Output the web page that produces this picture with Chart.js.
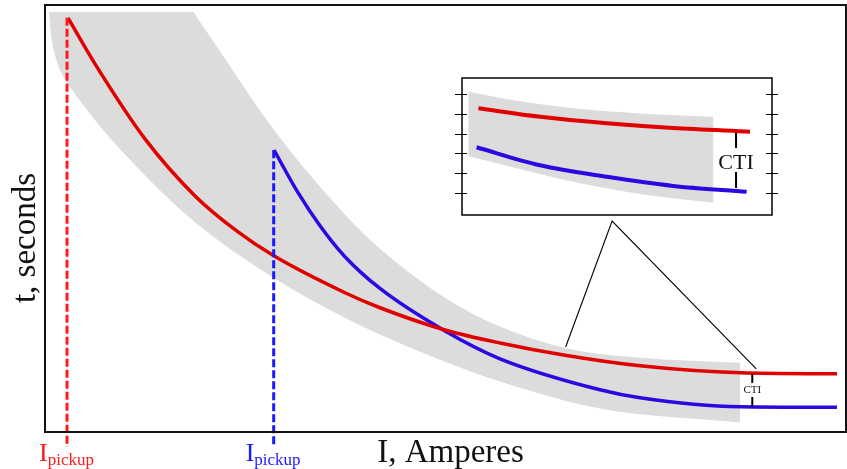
<!DOCTYPE html>
<html>
<head>
<meta charset="utf-8">
<script src="https://cdn.jsdelivr.net/npm/chart.js@4/dist/chart.umd.min.js"></script>
<style>
  body { margin: 0; background: #fff; }
  #wrap { position: relative; width: 847px; height: 469px; }
  #inset { position: absolute; left: 440px; top: 70px; }
</style>
</head>
<body>
<div id="wrap">
  <canvas id="main" width="847" height="469"></canvas>
  <canvas id="inset" width="350" height="160"></canvas>
</div>
<script>
// main plot, both axes in arbitrary units 0-100 (no tick labels on the original)
const redI = [2.87, 6.24, 12.48, 18.73, 23.97, 28.46, 37.45, 41.82, 49.94, 56.80, 64.92, 74.28, 86.77, 98.88];
const redT = [96.96, 86.21, 68.64, 55.29, 47.03, 41.38, 32.62, 29.10, 23.89, 20.84, 17.96, 15.50, 13.86, 13.63];

const blueI = [28.59, 31.59, 34.33, 37.45, 41.82, 49.94, 56.80, 69.29, 74.28, 86.77, 98.88];
const blueT = [66.04, 56.04, 48.31, 41.05, 33.61, 23.65, 17.14, 9.88, 8.01, 5.90, 5.78];

// grey tolerance band
const bandUpperI = [0.50, 18.48, 19.10, 29.09, 37.45, 41.82, 50.19, 56.80, 64.92, 74.28, 86.77];
const bandUpperT = [98.36, 98.36, 96.72, 69.48, 50.96, 42.93, 31.15, 24.68, 19.67, 17.38, 16.21];
const bandLowerI = [0.50, 0.75, 1.25, 2.12, 3.37, 5.62, 8.36, 17.85, 28.46, 37.45, 41.82, 49.94, 56.80, 69.29, 86.77];
const bandLowerT = [98.36, 92.97, 88.29, 83.84, 80.09, 74.52, 68.34, 50.54, 36.21, 26.77, 22.83, 16.44, 11.80, 5.48, 2.20];

// pickup currents (dashed verticals)
const redPickupI = 2.75;
const redPickupT = [97.0, -3.5];
const bluePickupI = 28.55;
const bluePickupT = [66.0, -3.5];

// leader lines from the zoom box
const leaderI = [65.0, 70.8, 88.8];
const leaderT = [19.9, 49.4, 14.8];

// CTI marker on the main plot
const ctiI = 88.3;
const ctiT = [13.6, 11.5, null, 8.2, 6.0];
const ctiLabelT = 9.8;

// inset (zoomed view)
const insetTicks = [0, 1, 2, 3, 4, 5];
const insetRedX = [5.3, 25.2, 46.7, 68.1, 92.9];
const insetRedY = [4.28, 3.85, 3.52, 3.28, 3.10];
const insetBlueX = [4.7, 25.2, 46.7, 68.1, 91.8];
const insetBlueY = [2.31, 1.40, 0.82, 0.36, 0.07];
const insetBandX = [2.0, 19.8, 35.9, 57.4, 81.1];
const insetBandUpperY = [5.12, 4.61, 4.28, 4.02, 3.85];
const insetBandLowerY = [1.87, 1.16, 0.57, -0.05, -0.49];
const insetCtiX = 88.4;
const insetCtiY = [3.03, 2.27, null, 1.06, 0.25];
const insetCtiLabelY = 1.52;

const pts = (xs, ys) => ys.map((y, i) => ({ x: Array.isArray(xs) ? xs[i] : xs, y: y }));

const RED = '#e00000';
const BLUE = '#2a08e0';
const GREY = '#dcdcdc';
const SERIF = '"Liberation Serif", "DejaVu Serif", serif';

const mainDecor = {
  id: 'mainDecor',
  afterDraw(chart) {
    const ctx = chart.ctx;
    const a = chart.chartArea;
    const x = chart.scales.x, y = chart.scales.y;
    ctx.save();
    ctx.strokeStyle = '#111';
    ctx.lineWidth = 2;
    ctx.strokeRect(a.left, a.top, a.right - a.left, a.bottom - a.top);

    ctx.fillStyle = '#111';
    ctx.font = '11px ' + SERIF;
    ctx.textAlign = 'center';
    ctx.textBaseline = 'middle';
    ctx.fillText('CTI', x.getPixelForValue(ctiI), y.getPixelForValue(ctiLabelT));

    // axis titles
    ctx.font = '33px ' + SERIF;
    ctx.textBaseline = 'alphabetic';
    ctx.fillText('I, Amperes', (a.left + a.right) / 2 + 5, 462);
    ctx.save();
    ctx.translate(35, 238);
    ctx.rotate(-Math.PI / 2);
    ctx.fillText('t, seconds', 0, 0);
    ctx.restore();

    // I_pickup labels
    const pickup = (val, color) => {
      const left = x.getPixelForValue(val) - 28;
      ctx.fillStyle = color;
      ctx.textAlign = 'left';
      ctx.font = '26px ' + SERIF;
      ctx.fillText('I', left, 461);
      const w = ctx.measureText('I').width;
      ctx.font = '17px ' + SERIF;
      ctx.fillText('pickup', left + w, 465);
    };
    pickup(redPickupI, '#ff1a1a');
    pickup(bluePickupI, '#1a1aff');
    ctx.restore();
  }
};

new Chart(document.getElementById('main'), {
  type: 'line',
  data: {
    datasets: [
      { data: pts(leaderI, leaderT), borderColor: '#000', borderWidth: 1.1, tension: 0 },
      { data: pts(ctiI, ctiT), borderColor: '#000', borderWidth: 2, tension: 0, spanGaps: false },
      { data: pts(redPickupI, redPickupT), borderColor: '#ff1a1a', borderWidth: 3, borderDash: [8, 3], tension: 0, clip: false },
      { data: pts(bluePickupI, bluePickupT), borderColor: '#1a1aff', borderWidth: 3, borderDash: [8, 3], tension: 0, clip: false },
      { data: pts(redI, redT), borderColor: RED, borderWidth: 3.5, cubicInterpolationMode: 'monotone' },
      { data: pts(blueI, blueT), borderColor: BLUE, borderWidth: 3.5, cubicInterpolationMode: 'monotone' },
      { data: pts(bandLowerI, bandLowerT), borderWidth: 0, borderColor: GREY, cubicInterpolationMode: 'monotone', fill: false },
      { data: pts(bandUpperI, bandUpperT), borderWidth: 0, borderColor: GREY, backgroundColor: GREY, cubicInterpolationMode: 'monotone', fill: '-1' }
    ]
  },
  options: {
    responsive: false,
    animation: false,
    devicePixelRatio: 1,
    layout: { padding: { left: 45, top: 5, right: 1, bottom: 37 } },
    elements: { point: { radius: 0, hoverRadius: 0 } },
    scales: {
      x: { type: 'linear', min: 0, max: 100, display: false },
      y: { min: 0, max: 100, display: false }
    },
    plugins: { legend: { display: false }, tooltip: { enabled: false } },
    events: []
  },
  plugins: [mainDecor]
});

const insetDecor = {
  id: 'insetDecor',
  afterDraw(chart) {
    const ctx = chart.ctx;
    const a = chart.chartArea;
    const x = chart.scales.x, y = chart.scales.y;
    ctx.save();
    ctx.strokeStyle = '#000';
    ctx.lineWidth = 1.5;
    ctx.strokeRect(a.left, a.top, a.right - a.left, a.bottom - a.top);
    ctx.lineWidth = 1.2;
    y.ticks.forEach(t => {
      const py = Math.round(y.getPixelForValue(t.value)) + 0.5;
      ctx.beginPath();
      ctx.moveTo(a.left - 7, py); ctx.lineTo(a.left + 5, py);
      ctx.moveTo(a.right - 6, py); ctx.lineTo(a.right + 6, py);
      ctx.stroke();
    });
    ctx.fillStyle = '#111';
    ctx.font = '22px ' + SERIF;
    ctx.textAlign = 'center';
    ctx.textBaseline = 'middle';
    ctx.fillText('CTI', x.getPixelForValue(insetCtiX), y.getPixelForValue(insetCtiLabelY));
    ctx.restore();
  }
};

new Chart(document.getElementById('inset'), {
  type: 'line',
  data: {
    datasets: [
      { data: pts(insetCtiX, insetCtiY), borderColor: '#000', borderWidth: 2, tension: 0, spanGaps: false },
      { data: pts(insetRedX, insetRedY), borderColor: RED, borderWidth: 4, cubicInterpolationMode: 'monotone' },
      { data: pts(insetBlueX, insetBlueY), borderColor: BLUE, borderWidth: 4, cubicInterpolationMode: 'monotone' },
      { data: pts(insetBandX, insetBandLowerY), borderWidth: 0, borderColor: GREY, cubicInterpolationMode: 'monotone', fill: false },
      { data: pts(insetBandX, insetBandUpperY), borderWidth: 0, borderColor: GREY, backgroundColor: GREY, cubicInterpolationMode: 'monotone', fill: '-1' }
    ]
  },
  options: {
    responsive: false,
    animation: false,
    devicePixelRatio: 1,
    layout: { padding: { left: 22, top: 8, right: 18, bottom: 15 } },
    elements: { point: { radius: 0, hoverRadius: 0 } },
    scales: {
      x: { type: 'linear', min: 0, max: 100, display: false },
      y: {
        min: -1.11, max: 5.81, display: false,
        afterBuildTicks: s => { s.ticks = insetTicks.map(v => ({ value: v })); }
      }
    },
    plugins: { legend: { display: false }, tooltip: { enabled: false } },
    events: []
  },
  plugins: [insetDecor]
});
</script>
</body>
</html>
